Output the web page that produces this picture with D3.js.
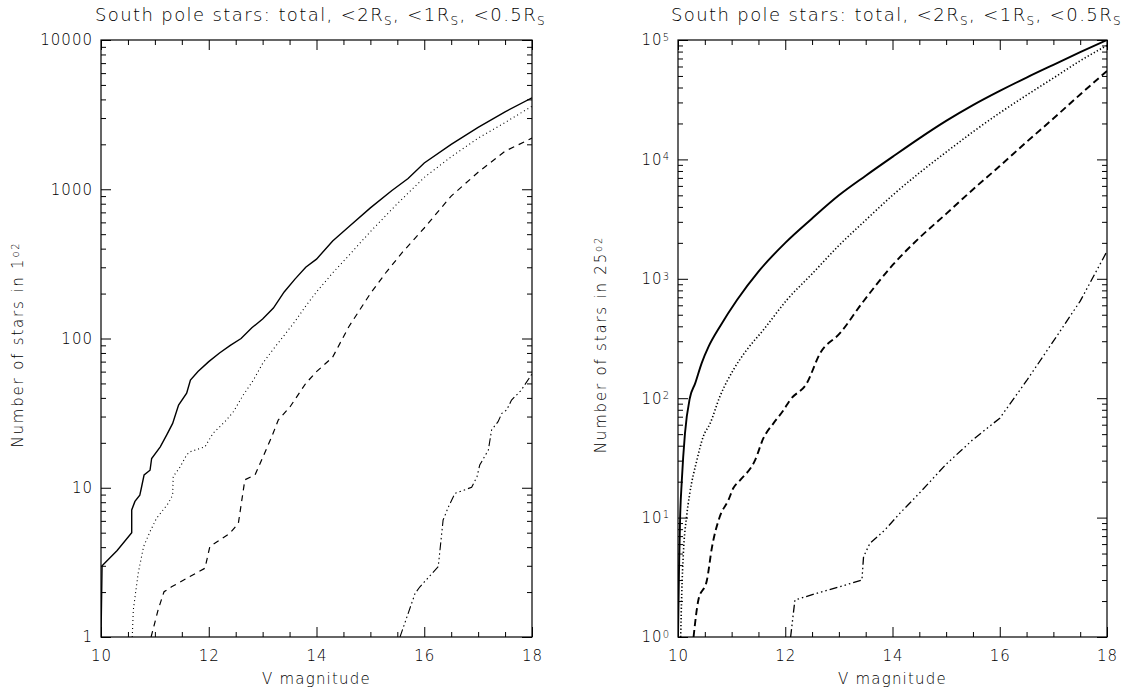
<!DOCTYPE html>
<html><head><meta charset="utf-8">
<script src="https://cdn.jsdelivr.net/npm/d3@7"></script>
<style>
body{margin:0;background:#fff}
svg{display:block}
text{font-family:"DejaVu Sans",sans-serif;font-weight:200;fill:#000}
</style>
</head><body>
<svg id="c" width="1138" height="688"></svg>
<script>
// ---------- data ----------
const titleParts = ["South pole stars: total, <2R", "S", ", <1R", "S", ", <0.5R", "S"];
const xTicks = [10, 12, 14, 16, 18];
const leftYTicks = [1, 10, 100, 1000, 10000];
const leftYTickLabels = ["1", "10", "100", "1000", "10000"];
const rightYTicks = [1, 10, 100, 1000, 10000, 100000];
const rightYExponents = ["0", "1", "2", "3", "4", "5"];

// left panel: stars in 1 square degree [V, N]
const leftTotal = [[10.0,1],[10.02,3.0],[10.3,3.8],[10.57,5.0],[10.57,7.1],[10.63,8.1],[10.72,8.9],[10.75,10],[10.8,12.2],[10.91,13.1],[10.94,15.7],[11.1,18.8],[11.22,22.6],[11.33,27],[11.44,35.8],[11.59,43],[11.66,52.7],[11.8,60],[12.0,70],[12.2,80],[12.4,90],[12.6,100],[12.8,118],[13.0,135],[13.2,160],[13.4,205],[13.6,250],[13.8,300],[14.0,340],[14.3,450],[14.6,560],[15.0,750],[15.4,980],[15.7,1180],[16.0,1500],[16.5,2000],[17.0,2600],[17.5,3300],[18.0,4100]];
const left2R = [[10.58,1],[10.6,1.52],[10.69,2.67],[10.79,4.03],[10.91,5.08],[11.03,6.24],[11.25,7.87],[11.33,8.94],[11.34,11.9],[11.47,13.8],[11.59,16.6],[11.65,17.4],[11.93,18.8],[12.08,23.2],[12.3,27.7],[12.46,32.4],[12.64,41.8],[12.83,52.7],[13.0,68],[13.2,85],[13.4,105],[13.6,130],[13.8,165],[14.0,205],[14.3,275],[14.6,360],[15.0,520],[15.5,800],[16.0,1200],[16.5,1650],[17.0,2200],[17.5,2800],[18.0,3600]];
const left1R = [[10.93,1],[11.06,1.52],[11.17,2.01],[11.31,2.17],[11.65,2.54],[11.93,2.89],[12.02,4.03],[12.39,4.95],[12.55,5.78],[12.67,11.3],[12.86,12.2],[13.01,16.2],[13.17,22],[13.29,28.4],[13.51,34.9],[13.8,50],[14.0,60],[14.3,75],[14.6,120],[15.0,200],[15.3,280],[15.6,380],[16.0,550],[16.5,900],[17.0,1300],[17.5,1800],[18.0,2200]];
const left05R = [[15.55,1],[15.83,1.96],[15.92,2.17],[16.26,2.96],[16.35,6.08],[16.45,7.46],[16.57,9.18],[16.88,10.07],[16.98,11.9],[17.03,14.2],[17.19,17.9],[17.25,24.4],[17.37,27.7],[17.44,31.5],[17.53,33.2],[17.62,38.7],[17.8,45],[18.0,58]];

// right panel: stars in 25 square degrees [V, N]
const rightTotal = [[10.0,1],[10.02,3.9],[10.04,10.2],[10.07,20],[10.13,50.8],[10.22,100],[10.32,133],[10.44,196],[10.57,270],[10.78,397],[11.1,665],[11.5,1150],[12.0,2000],[12.5,3200],[13.0,5000],[13.5,7300],[14.0,10500],[14.5,15000],[15.0,21000],[15.5,28500],[16.0,37500],[16.5,48500],[17.0,62000],[17.5,79000],[18.0,100000]];
const right2R = [[10.05,1],[10.07,2.32],[10.1,5.0],[10.16,10.2],[10.22,16],[10.35,30],[10.47,47.6],[10.6,61.6],[10.78,103],[11.03,172],[11.28,253],[11.59,372],[12.03,665],[12.5,1100],[13.0,1900],[13.5,3100],[14.0,5000],[14.5,7700],[15.0,11500],[15.5,17000],[16.0,24500],[16.5,34500],[17.0,48000],[17.5,67000],[18.0,90000]];
const right1R = [[10.29,1],[10.38,2.04],[10.54,3.0],[10.63,5.53],[10.78,10.2],[10.94,14],[11.03,17.6],[11.16,20.6],[11.44,30.4],[11.59,46],[11.78,61.6],[11.97,79.6],[12.09,96.6],[12.4,133],[12.65,238],[13.02,350],[13.43,623],[14.0,1300],[14.5,2200],[15.0,3500],[15.5,5600],[16.0,8800],[16.5,14000],[17.0,22000],[17.5,35000],[18.0,55000]];
const right05R = [[12.1,1],[12.18,2.04],[12.58,2.32],[13.02,2.64],[13.43,3.0],[13.46,4.7],[13.58,6.1],[13.86,7.9],[14.14,10.9],[14.5,16],[15.0,28],[15.5,45],[16.0,68],[16.5,140],[17.0,300],[17.5,650],[18.0,1700]];

// ---------- drawing ----------
const svg = d3.select("#c");
const plotTop = 40, plotBottom = 637;

function panel(opts) {
  const {x0, x1, yMax, series, yLabelMain, yLabelSup, yLabelX, sup} = opts;
  const x = d3.scaleLinear().domain([10, 18]).range([x0, x1]);
  const y = d3.scaleLog().domain([1, yMax]).range([plotBottom, plotTop]);
  const g = svg.append("g");

  // title
  const t = g.append("text").attr("x", (x0 + x1) / 2 + 4).attr("y", 21)
    .attr("text-anchor", "middle").style("font-size", "18px").style("letter-spacing", "1.4px");
  titleParts.forEach((p, i) => {
    if (i % 2 === 1) {
      t.append("tspan").attr("dy", 4).style("font-size", "12px").text(p);
    } else {
      t.append("tspan").attr("dy", i === 0 ? 0 : -4).text(p);
    }
  });

  const xMinor = d3.range(10, 18.001, 0.5).filter(v => !xTicks.includes(v));
  const yMinor = [];
  for (let d = 1; d < yMax; d *= 10) for (let k = 2; k <= 9; k++) yMinor.push(d * k);

  const axB = g.append("g").attr("transform", `translate(0,${plotBottom})`);
  axB.call(d3.axisBottom(x).tickValues(xMinor).tickSize(-5).tickFormat(""));
  axB.append("g").call(d3.axisBottom(x).tickValues(xTicks).tickSize(-10).tickPadding(13).tickFormat(d3.format("d")));
  const axT = g.append("g").attr("transform", `translate(0,${plotTop})`);
  axT.call(d3.axisTop(x).tickValues(xMinor).tickSize(-5).tickFormat(""));
  axT.append("g").call(d3.axisTop(x).tickValues(xTicks).tickSize(-10).tickFormat(""));

  const axL = g.append("g").attr("transform", `translate(${x0},0)`);
  axL.call(d3.axisLeft(y).tickValues(yMinor).tickSize(-5).tickFormat(""));
  const axLM = axL.append("g").call(d3.axisLeft(y).tickValues(opts.yTicks).tickSize(-10).tickPadding(8).tickFormat((d, i) => sup ? "" : opts.yTickLabels[i]));
  const axR = g.append("g").attr("transform", `translate(${x1},0)`);
  axR.call(d3.axisRight(y).tickValues(yMinor).tickSize(-5).tickFormat(""));
  axR.append("g").call(d3.axisRight(y).tickValues(opts.yTicks).tickSize(-10).tickFormat(""));

  if (sup) {
    axLM.selectAll(".tick text").each(function(d, i) {
      const s = d3.select(this);
      s.append("tspan").text("10");
      s.append("tspan").attr("dy", "-0.45em").style("font-size", "10px").text(opts.yExps[i]);
    });
  }

  g.selectAll(".domain").remove();
  g.selectAll(".tick line").attr("stroke", "#000").attr("stroke-width", 1);
  g.selectAll(".tick text").style("font-family", "DejaVu Sans, sans-serif").style("font-weight", "200").style("font-size", "15px").style("letter-spacing", "1px").attr("fill", "#000");

  g.append("rect").attr("x", x0).attr("y", plotTop).attr("width", x1 - x0).attr("height", plotBottom - plotTop)
    .attr("fill", "none").attr("stroke", "#000").attr("stroke-width", 1.2);

  g.append("text").attr("x", (x0 + x1) / 2).attr("y", 684).attr("text-anchor", "middle")
    .style("font-size", "15px").style("letter-spacing", "1.2px").text("V magnitude");

  const yl = g.append("text").attr("transform", `translate(${yLabelX},${(plotTop + plotBottom) / 2 + 6}) rotate(-90)`)
    .attr("text-anchor", "middle").style("font-size", "15px").style("letter-spacing", "1.8px");
  yl.append("tspan").text(yLabelMain);
  yl.append("tspan").attr("dy", "-0.45em").style("font-size", "10px").text(yLabelSup);

  const clipId = "clip" + x0;
  svg.append("clipPath").attr("id", clipId).append("rect")
    .attr("x", x0).attr("y", plotTop).attr("width", x1 - x0).attr("height", plotBottom - plotTop);
  series.forEach(s => {
    const line = d3.line().x(d => x(d[0])).y(d => y(d[1])).curve(s.smooth ? d3.curveMonotoneX : d3.curveLinear);
    g.append("path").datum(s.data).attr("d", line).attr("clip-path", `url(#${clipId})`)
      .attr("fill", "none").attr("stroke", "#000").attr("stroke-width", s.w)
      .attr("stroke-dasharray", s.dash);
  });
}

panel({
  x0: 101, x1: 532, yMax: 1e4, yTicks: leftYTicks, yTickLabels: leftYTickLabels, sup: false,
  yLabelMain: "Number of stars in 1", yLabelSup: "o2", yLabelX: 23,
  series: [
    {data: leftTotal, w: 1.4, dash: null},
    {data: left2R, w: 1.1, dash: "1,3"},
    {data: left1R, w: 1.2, dash: "6,5"},
    {data: left05R, w: 1.1, dash: "8,3,1.5,3,1.5,3,1.5,3"}
  ]
});
panel({
  x0: 678, x1: 1107, yMax: 1e5, yTicks: rightYTicks, yExps: rightYExponents, sup: true,
  yLabelMain: "Number of stars in 25", yLabelSup: "o2", yLabelX: 606,
  series: [
    {data: rightTotal, w: 1.9, dash: null, smooth: true},
    {data: right2R, w: 1.6, dash: "1.3,2.2", smooth: true},
    {data: right1R, w: 1.9, dash: "7,4", smooth: true},
    {data: right05R, w: 1.3, dash: "8,3,1.5,3,1.5,3,1.5,3"}
  ]
});
</script>
</body></html>
